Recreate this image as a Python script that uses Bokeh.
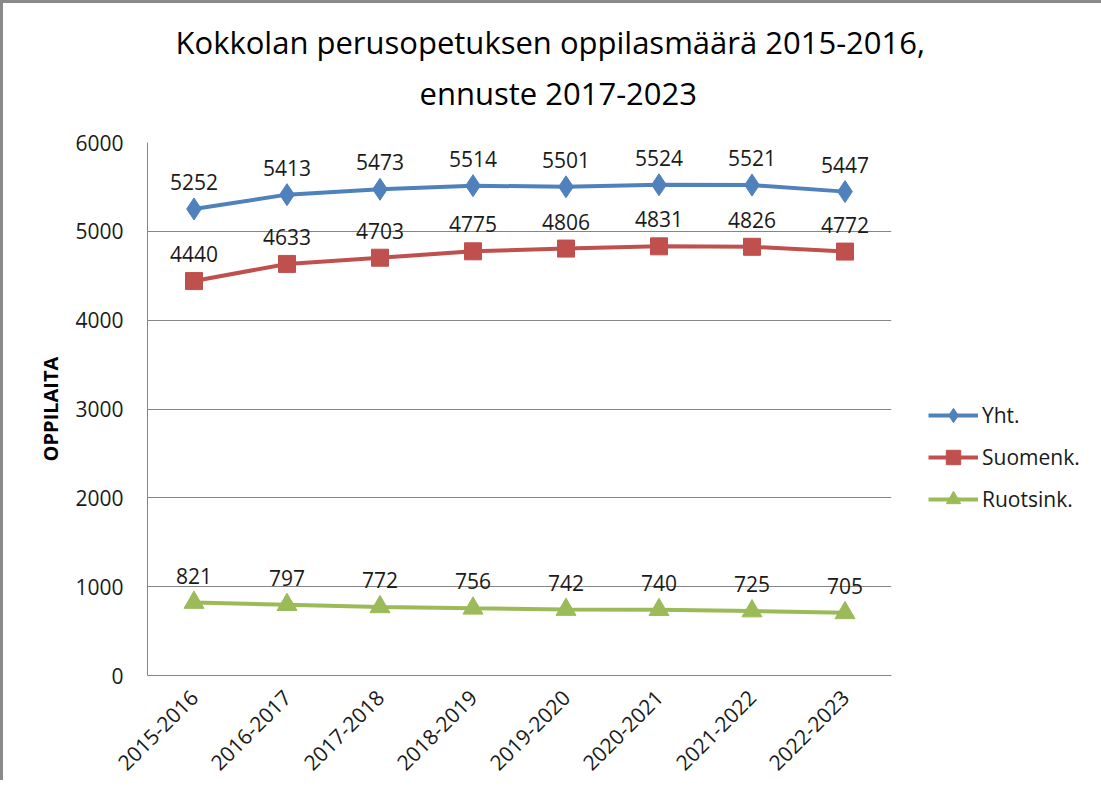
import math
from bokeh.plotting import figure
from bokeh.models import Legend, LegendItem, Title, ColumnDataSource, FactorRange, Range1d
from bokeh.core.properties import value
from bokeh.embed import file_html
from bokeh.resources import INLINE

categories = ["2015-2016", "2016-2017", "2017-2018", "2018-2019",
              "2019-2020", "2020-2021", "2021-2022", "2022-2023"]
yht = [5252, 5413, 5473, 5514, 5501, 5524, 5521, 5447]
suomenk = [4440, 4633, 4703, 4775, 4806, 4831, 4826, 4772]
ruotsink = [821, 797, 772, 756, 742, 740, 725, 705]
series_names = ["Yht.", "Suomenk.", "Ruotsink."]
y_ticks = [0, 1000, 2000, 3000, 4000, 5000, 6000]
title_lines = ["Kokkolan perusopetuksen oppilasmäärä 2015-2016,", "ennuste 2017-2023"]
y_title = "OPPILAITA"

FONT = "Open Sans"
GRID = "#868686"
TXT = "#1a1a1a"

p = figure(x_range=FactorRange(*categories), y_range=Range1d(0, 6000),
           frame_width=744, frame_height=533,
           min_border_left=144, min_border_right=200,
           min_border_top=139, min_border_bottom=104,
           output_backend="svg", toolbar_location=None)
p.styles = {"border-left": "3px solid #8a8a8a", "border-top": "3px solid #8a8a8a"}
p.outline_line_color = None
p.background_fill_color = "white"
p.border_fill_color = "white"

p.xgrid.grid_line_color = None
p.ygrid.grid_line_color = GRID
p.ygrid.grid_line_width = 1

p.yaxis.ticker = y_ticks
p.yaxis.major_tick_line_color = None
p.yaxis.minor_tick_line_color = None
p.yaxis.axis_line_color = GRID
p.yaxis.major_label_standoff = 18
p.yaxis.major_label_text_font = FONT
p.yaxis.major_label_text_font_size = "21px"
p.yaxis.major_label_text_color = TXT
p.yaxis.axis_label = y_title
p.yaxis.axis_label_text_font = FONT
p.yaxis.axis_label_text_font_style = "bold"
p.yaxis.axis_label_text_font_size = "20px"
p.yaxis.axis_label_text_color = "black"
p.yaxis.axis_label_standoff = 8

p.xaxis.major_tick_line_color = None
p.xaxis.minor_tick_line_color = None
p.xaxis.axis_line_color = GRID
p.xaxis.major_label_orientation = math.pi / 4
p.xaxis.major_label_standoff = 12
p.xaxis.major_label_text_font = FONT
p.xaxis.major_label_text_font_size = "21px"
p.xaxis.major_label_text_color = TXT

colors = ["#4F81BD", "#C0504D", "#9BBB59"]
markers = ["diamond", "square", "triangle"]
sizes = [22, 17, 20]
data = [yht, suomenk, ruotsink]

items = []
for name, vals, c, m, s in zip(series_names, data, colors, markers, sizes):
    src = ColumnDataSource(dict(x=categories, y=vals, t=[str(v) for v in vals]))
    ln = p.line("x", "y", source=src, line_color=c, line_width=4)
    sc = p.scatter("x", "y", source=src, marker=m, size=s, fill_color=c, line_color=c)
    p.text("x", "y", text="t", source=src, y_offset=-27, text_align="center",
           text_baseline="middle", text_font=value(FONT), text_font_size="21px",
           text_color=TXT)
    items.append(LegendItem(label=name, renderers=[ln, sc]))

legend = Legend(items=items, location=(37, 158), orientation="vertical",
                border_line_color=None, background_fill_alpha=0,
                padding=0, margin=0, spacing=6, glyph_width=50, glyph_height=36,
                label_height=20, label_standoff=4,
                label_text_font=FONT, label_text_font_size="21px", label_text_color=TXT)
p.add_layout(legend, "right")

p.add_layout(Title(text=title_lines[1], align="left", offset=272, standoff=58,
                   text_font=FONT, text_font_size="31px", text_font_style="normal",
                   text_color="black"), "above")
p.add_layout(Title(text=title_lines[0], align="left", offset=28, standoff=-44,
                   text_font=FONT, text_font_size="31px", text_font_style="normal",
                   text_color="black"), "above")

open("out.html", "w").write(file_html(p, INLINE))
